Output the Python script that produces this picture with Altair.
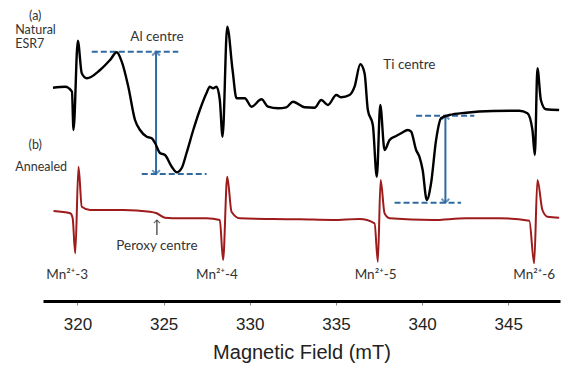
import altair as alt
import pandas as pd

# ---- data (field in mT, intensity in arbitrary units) ----
natural_field = [318.58, 319.29, 319.68, 319.77, 320.02, 320.25, 320.54, 321.31, 321.89, 322.28,
                 322.57, 322.95, 323.34, 323.63, 324.02, 324.31, 324.50, 324.79, 325.08, 325.47,
                 325.76, 326.05, 326.33, 326.72, 327.10, 327.49, 327.68, 327.87, 328.07, 328.26,
                 328.42, 328.69, 329.00, 329.23, 329.71, 330.10, 330.68, 331.06, 331.64, 332.12,
                 332.51, 333.18, 333.76, 334.15, 334.53, 335.02, 335.31, 335.79, 336.08, 336.41,
                 336.66, 336.85, 337.14, 337.37, 337.57, 337.82, 338.11, 338.49, 338.78, 339.17,
                 339.36, 339.65, 339.84, 340.03, 340.27, 340.52, 340.81, 341.10, 341.58, 342.55,
                 344.09, 345.63, 346.11, 346.40, 346.54, 346.69, 346.89, 347.18, 347.95]
natural_int = [213.3, 214.3, 209.3, 171.0, 260.3, 227.7, 222.7, 231.0, 241.0, 248.7,
               239.3, 214.3, 181.0, 171.0, 164.3, 162.7, 158.0, 148.0, 146.0, 134.3,
               128.7, 133.0, 148.0, 171.0, 191.0, 208.0, 214.3, 212.7, 214.3, 201.0,
               164.3, 274.3, 231.0, 202.7, 202.7, 194.3, 201.7, 194.3, 192.7, 193.7,
               199.3, 193.7, 193.3, 201.0, 196.0, 206.0, 203.7, 206.0, 214.3, 236.7,
               227.7, 191.0, 176.0, 124.3, 196.0, 151.0, 161.0, 165.0, 167.7, 171.0,
               169.3, 151.0, 144.3, 131.0, 101.0, 118.0, 161.0, 182.7, 186.0, 188.3,
               190.0, 190.3, 187.7, 171.0, 146.0, 232.7, 201.0, 191.7, 191.0]

annealed_field = [318.61, 319.58, 319.72, 319.87, 320.06, 320.25, 320.74, 322.66, 324.21, 324.60,
                  325.08, 325.95, 327.49, 328.26, 328.45, 328.69, 328.94, 329.42, 331.35, 332.90,
                  334.81, 336.37, 337.24, 337.43, 337.59, 337.82, 338.11, 340.61, 342.55, 344.48,
                  346.22, 346.50, 346.69, 346.98, 347.27, 347.95]
annealed_int = [90.0, 87.7, 83.0, 47.7, 134.3, 94.3, 91.0, 91.0, 89.3, 87.7,
                83.3, 82.7, 82.7, 81.0, 41.0, 124.3, 89.3, 82.7, 82.0, 81.7,
                81.0, 82.0, 77.7, 39.3, 121.0, 87.7, 82.7, 81.0, 82.7, 82.7,
                80.3, 37.7, 121.0, 91.0, 84.3, 83.3]

# dashed reference levels: start field, end field, intensity
dash_x0 = [320.83, 323.73, 339.65, 338.40]
dash_x1 = [325.85, 327.49, 343.03, 342.26]
dash_y = [249.3, 127.0, 185.3, 98.3]

# double arrows: field, low, high
arrow_x = [324.56, 341.35]
arrow_lo = [127.0, 98.3]
arrow_hi = [249.3, 185.3]

# peroxy pointer
peroxy_x = [324.61]
peroxy_lo = [66.0]
peroxy_hi = [81.0]

# text labels
left_labels = ["Natural", "ESR7", "Annealed"]
left_x = [316.39, 316.39, 316.39]
left_y = [271.5, 257.5, 134.0]
side_labels = ["(a)", "(b)"]
side_x = [317.55, 317.55]
side_y = [285.5, 156.0]
center_labels = ["Al centre", "Ti centre", "Peroxy centre",
                 "Mn²⁺-3", "Mn²⁺-4", "Mn²⁺-5", "Mn²⁺-6"]
center_x = [324.61, 339.26, 324.61, 319.40, 328.09, 337.30, 346.50]
center_y = [264.0, 236.0, 55.0, 26.0, 26.0, 26.0, 26.0]

tick_values = [320, 325, 330, 335, 340, 345]

# ---- tables ----
nat = pd.DataFrame({"field": natural_field, "intensity": natural_int})
ann = pd.DataFrame({"field": annealed_field, "intensity": annealed_int})
dashes = pd.DataFrame({"field": dash_x0, "x1": dash_x1, "intensity": dash_y})
arrows = pd.DataFrame({"field": arrow_x, "intensity": arrow_lo, "hi": arrow_hi})
arrow_tops = pd.DataFrame({"field": arrow_x, "intensity": arrow_hi})
perox = pd.DataFrame({"field": peroxy_x, "intensity": peroxy_lo, "hi": peroxy_hi})
perox_tip = pd.DataFrame({"field": peroxy_x, "intensity": peroxy_hi})
ltxt = pd.DataFrame({"t": left_labels, "field": left_x, "intensity": left_y})
stxt = pd.DataFrame({"t": side_labels, "field": side_x, "intensity": side_y})
ctxt = pd.DataFrame({"t": center_labels, "field": center_x, "intensity": center_y})

xscale = alt.Scale(domain=[318, 348], nice=False, zero=False)
yscale = alt.Scale(domain=[0, 291], nice=False, zero=False)

X = alt.X("field:Q", scale=xscale,
          axis=alt.Axis(title="Magnetic Field (mT)", values=tick_values, grid=False,
                        domainWidth=3, domainColor="#000000", tickColor="#888888",
                        tickSize=4, tickWidth=1, labelFontSize=17, labelFont="Liberation Sans",
                        labelColor="#222222", labelPadding=11, titleFontSize=20,
                        titleFont="Liberation Sans", titleFontWeight="normal",
                        titleColor="#222222", titlePadding=10))
Y = alt.Y("intensity:Q", scale=yscale, axis=None)

blue = "#2f6aa3"

black_line = alt.Chart(nat).mark_line(color="#000000", strokeWidth=2.4,
                                      interpolate="monotone").encode(x=X, y=Y)
red_line = alt.Chart(ann).mark_line(color="#9e1b1b", strokeWidth=2,
                                    interpolate="monotone").encode(x=X, y=Y)

dash_layer = alt.Chart(dashes).mark_rule(color=blue, strokeWidth=2, strokeDash=[6, 3]).encode(
    x=X, x2="x1:Q", y=Y)

arrow_shaft = alt.Chart(arrows).mark_rule(color=blue, strokeWidth=2).encode(
    x=X, y=Y, y2="hi:Q")
arrow_top = alt.Chart(arrow_tops).mark_point(shape="M-1,1L0,0L1,1", filled=False, color=blue,
                                             strokeWidth=2, size=60).encode(x=X, y=Y)
arrow_bot = alt.Chart(arrows).mark_point(shape="M-1,-1L0,0L1,-1", filled=False, color=blue,
                                         strokeWidth=2, size=60).encode(x=X, y=Y)

perox_shaft = alt.Chart(perox).mark_rule(color="#333333", strokeWidth=1.2).encode(
    x=X, y=Y, y2="hi:Q")
perox_head = alt.Chart(perox_tip).mark_point(shape="M-1,1L0,0L1,1", filled=False,
                                             color="#333333", strokeWidth=1.2,
                                             size=40).encode(x=X, y=Y)

left_text = alt.Chart(ltxt).mark_text(align="left", baseline="middle", font="Lato",
                                      fontSize=12.5, color="#333333").encode(
    x=X, y=Y, text="t:N")
side_text = alt.Chart(stxt).mark_text(align="center", baseline="middle", font="Lato",
                                      fontSize=12.5, color="#333333").encode(
    x=X, y=Y, text="t:N")
center_text = alt.Chart(ctxt).mark_text(align="center", baseline="middle", font="Lato",
                                        fontSize=13.5, color="#333333").encode(
    x=X, y=Y, text="t:N")

chart = alt.layer(
    dash_layer, arrow_shaft, arrow_top, arrow_bot, perox_shaft, perox_head,
    black_line, red_line, left_text, side_text, center_text
).properties(
    width=517, height=291,
    padding={"left": 35, "top": 2, "right": 7, "bottom": 68},
    autosize=alt.AutoSizeParams(type="none"),
).configure_view(stroke=None)

chart.save("out.html", embed_options={"renderer": "svg", "actions": False})
